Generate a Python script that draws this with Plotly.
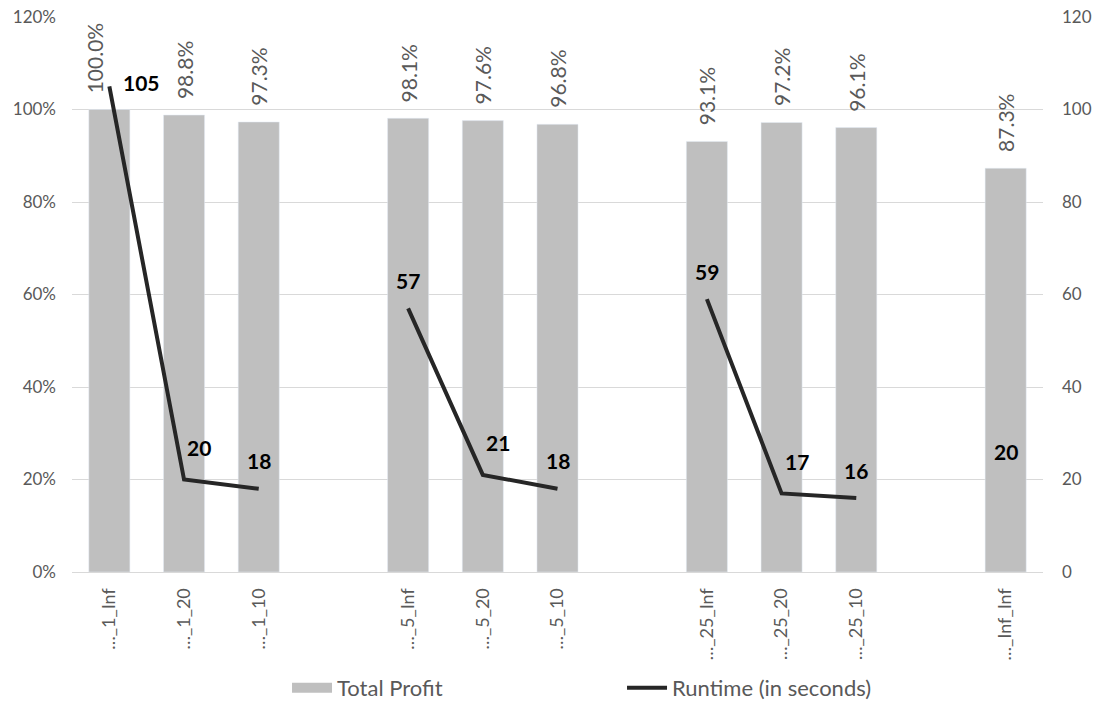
import plotly.graph_objects as go

# Scenario labels; blank entries are spacer slots between groups
categories = ["…_1_Inf", "…_1_20", "…_1_10", " ",
              "…_5_Inf", "…_5_20", "…_5_10", "  ",
              "…_25_Inf", "…_25_20", "…_25_10", "   ",
              "…_Inf_Inf"]
total_profit = [1.000, 0.988, 0.973, None,
                0.981, 0.976, 0.968, None,
                0.931, 0.972, 0.961, None,
                0.873]
runtime_sec = [105, 20, 18, None,
               57, 21, 18, None,
               59, 17, 16, None,
               20]

FONT = "Lato"
GREY_TXT = "#595959"
BAR_GREY = "#BFBFBF"
LINE_DARK = "#262626"

fig = go.Figure()

fig.add_trace(go.Bar(
    x=categories, y=total_profit, name="Total Profit",
    marker=dict(color=BAR_GREY),
    width=0.55, showlegend=False,
    yaxis="y",
))

fig.add_trace(go.Scatter(
    x=categories, y=runtime_sec, name="Runtime (in seconds)",
    mode="lines",
    line=dict(color=LINE_DARK, width=4),
    connectgaps=False, showlegend=False,
    yaxis="y2",
))

# legend entries: a wide grey swatch for the bars, a thick dark line for runtime
fig.add_trace(go.Scatter(
    x=[None], y=[None], name="Total Profit", mode="lines",
    line=dict(color=BAR_GREY, width=12), yaxis="y",
))
fig.add_trace(go.Scatter(
    x=[None], y=[None], name="Runtime (in seconds)", mode="lines",
    line=dict(color=LINE_DARK, width=4), yaxis="y2",
))

annotations = []
# percentage labels above each bar, rotated
for i, (c, v) in enumerate(zip(categories, total_profit)):
    if v is None:
        continue
    annotations.append(dict(
        x=c, y=v, xref="x", yref="y", text=f"{v:.1%}",
        showarrow=False, textangle=-90, yanchor="bottom",
        xshift=-15 if i == 0 else 0, yshift=14,
        font=dict(family=FONT, size=21, color=GREY_TXT),
    ))

# runtime labels near each point of the line
for i, (c, v) in enumerate(zip(categories, runtime_sec)):
    if v is None:
        continue
    if i == 0:
        dx, dy = 32, 4
    elif i in (1, 5, 9):
        dx, dy = 15, 32
    else:
        dx, dy = 0, 28
    annotations.append(dict(
        x=c, y=v, xref="x", yref="y2", text=f"<b>{v}</b>",
        showarrow=False, xshift=dx, yshift=dy,
        font=dict(family=FONT, size=21, color="#000000"),
    ))

# paper spans x=40..1065 px; the plot area sits inside it at 72..1043 px
fig.update_layout(
    width=1105, height=701,
    margin=dict(l=40, r=40, t=17, b=129, autoexpand=False),
    plot_bgcolor="white", paper_bgcolor="white",
    font=dict(family=FONT, size=17, color=GREY_TXT),
    showlegend=True,
    legend=dict(orientation="h", x=0.241, xanchor="left", y=-0.209, yanchor="middle",
                entrywidth=280, entrywidthmode="pixels", itemwidth=40,
                font=dict(family=FONT, size=22, color=GREY_TXT)),
    annotations=annotations,
    xaxis=dict(type="category", domain=[0.03122, 0.97854],
               tickangle=-90, showgrid=False, automargin=False,
               showline=True, linecolor="#D9D9D9", linewidth=1,
               ticks="", ticklabelstandoff=8,
               tickfont=dict(family=FONT, size=18, color=GREY_TXT)),
    yaxis=dict(range=[0, 1.2], dtick=0.2, tickformat=".0%",
               anchor="free", position=0.0156, automargin=False,
               showgrid=True, gridcolor="#D9D9D9", gridwidth=1, zeroline=False,
               ticks="", tickfont=dict(family=FONT, size=17, color=GREY_TXT)),
    yaxis2=dict(range=[0, 120], dtick=20, overlaying="y", side="right",
                anchor="free", position=0.9961, automargin=False,
                showgrid=False, zeroline=False, ticks="",
                tickfont=dict(family=FONT, size=17, color=GREY_TXT)),
)

fig.write_html("out.html")
